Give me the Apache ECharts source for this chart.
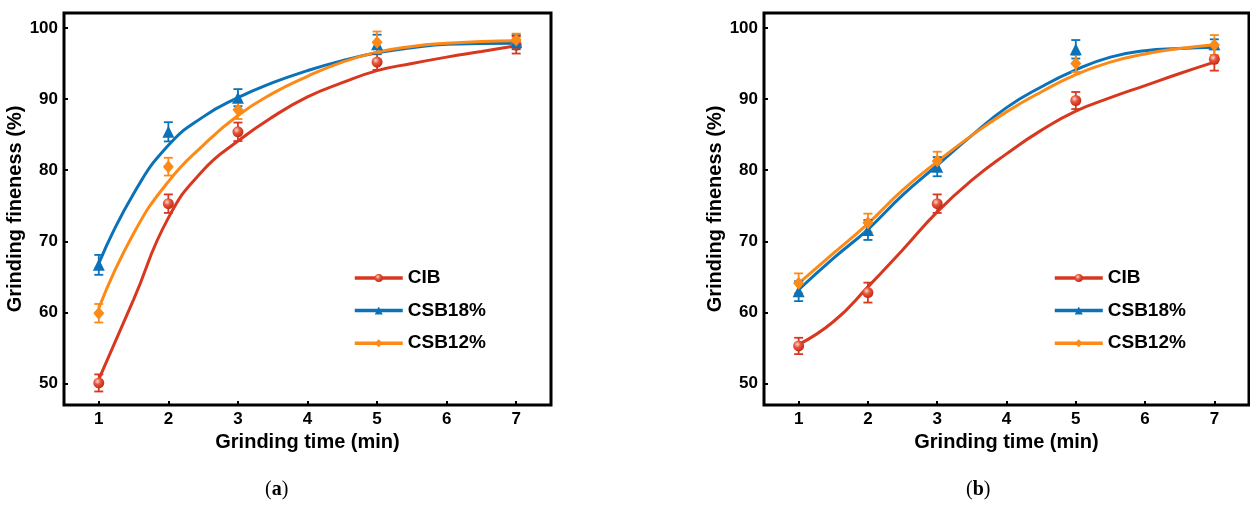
<!DOCTYPE html>
<html>
<head>
<meta charset="utf-8">
<script src="https://cdn.jsdelivr.net/npm/echarts@6/dist/echarts.min.js"></script>
<style>
  html, body { margin: 0; padding: 0; background: #fff; }
  #chart { width: 1250px; height: 512px; }
</style>
</head>
<body>
<div id="chart"></div>
<script>
// ---- data ----
const seriesNames = ['CIB', 'CSB18%', 'CSB12%'];
const xTicks = [1, 2, 3, 4, 5, 6, 7];
const yTicks = [50, 60, 70, 80, 90, 100];
const sampleTimes = [1, 2, 3, 5, 7];

// panel (a): measured means and standard errors
const cibA = [50.1, 75.3, 85.4, 95.2, 97.6];
const cibErrA = [1.2, 1.3, 1.3, 1.1, 1.2];
const csb18A = [66.7, 85.4, 90.2, 97.7, 98.0];
const csb18ErrA = [1.4, 1.35, 1.2, 1.35, 1.0];
const csb12A = [59.9, 80.5, 88.5, 98.0, 98.3];
const csb12ErrA = [1.3, 1.25, 1.3, 1.5, 0.9];

// panel (a): fitted curves
const fitTimesA = [1, 1.5, 2, 2.5, 3, 3.5, 4, 4.5, 5, 5.5, 6, 6.5, 7];
const cibFitA = [50.6, 61.8, 73.3, 80.0, 84.1, 87.5, 90.3, 92.3, 94.0, 95.0, 95.9, 96.7, 97.5];
const csb18FitA = [66.9, 76.7, 83.5, 87.5, 90.2, 92.3, 94.0, 95.4, 96.5, 97.2, 97.7, 97.8, 97.85];
const csb12FitA = [60.6, 71.1, 78.4, 83.5, 87.7, 90.8, 93.2, 95.2, 96.6, 97.4, 97.85, 98.1, 98.2];

// panel (b): measured means and standard errors
const cibB = [55.3, 62.8, 75.3, 89.8, 95.6];
const cibErrB = [1.15, 1.4, 1.3, 1.2, 1.6];
const csb18B = [63.0, 71.6, 80.5, 97.0, 97.7];
const csb18ErrB = [1.4, 1.4, 1.35, 1.3, 0.7];
const csb12B = [64.1, 72.6, 81.3, 95.0, 97.6];
const csb12ErrB = [1.4, 1.3, 1.3, 1.2, 1.4];

// panel (b): fitted curves
const fitTimesB = [1, 1.5, 2, 2.5, 3, 3.5, 4, 4.5, 5, 5.5, 6, 6.5, 7];
const cibFitB = [55.5, 58.7, 63.6, 68.8, 74.15, 78.6, 82.3, 85.6, 88.3, 90.2, 91.9, 93.6, 95.2];
const csb18FitB = [63.2, 67.6, 71.7, 76.5, 80.7, 84.9, 88.8, 91.7, 94.1, 95.9, 96.8, 97.1, 97.3];
const csb12FitB = [64.1, 68.3, 72.5, 77.2, 81.2, 84.9, 88.2, 91.0, 93.45, 95.2, 96.35, 97.1, 97.65];

// ---- styling ----
const RED = '#d7381f', BLUE = '#0b72b9', ORANGE = '#fd8a16';
const FONT = '"Liberation Sans", Arial, sans-serif';
const colors = [RED, BLUE, ORANGE];
const shinyRed = {
  type: 'radial', x: 0.38, y: 0.35, r: 0.65,
  colorStops: [{ offset: 0, color: '#ffd6cc' }, { offset: 0.45, color: '#e5553c' }, { offset: 1, color: '#c42c14' }]
};
const markerStyles = [
  { symbol: 'circle', size: 11, color: shinyRed },
  { symbol: 'triangle', size: 12, color: BLUE },
  { symbol: 'diamond', size: [11, 13], color: ORANGE }
];

const zip = (xs, ys) => xs.map((x, i) => [x, ys[i]]);
const bars = (xs, ys, es) => xs.map((x, i) => [x, ys[i] - es[i], ys[i] + es[i]]);

function errorBarItem(params, api) {
  const x = api.value(0);
  const lo = api.coord([x, api.value(1)]);
  const hi = api.coord([x, api.value(2)]);
  const w = 4.5;
  const style = { stroke: api.visual('color'), lineWidth: 1.8 };
  return {
    type: 'group',
    children: [
      { type: 'line', shape: { x1: hi[0], y1: hi[1], x2: lo[0], y2: lo[1] }, style },
      { type: 'line', shape: { x1: hi[0] - w, y1: hi[1], x2: hi[0] + w, y2: hi[1] }, style },
      { type: 'line', shape: { x1: lo[0] - w, y1: lo[1], x2: lo[0] + w, y2: lo[1] }, style }
    ]
  };
}

function panelSeries(idx, fitX, fits, means, errs) {
  const out = [];
  fits.forEach((fit, k) => {
    out.push({
      name: seriesNames[k], type: 'line', xAxisIndex: idx, yAxisIndex: idx,
      data: zip(fitX, fit), smooth: 0.5,
      symbol: markerStyles[k].symbol, showSymbol: false,
      lineStyle: { color: colors[k], width: 3 },
      itemStyle: { color: markerStyles[k].color },
      z: 2
    });
  });
  means.forEach((m, k) => {
    out.push({
      name: seriesNames[k], type: 'custom', xAxisIndex: idx, yAxisIndex: idx,
      renderItem: errorBarItem, data: bars(sampleTimes, m, errs[k]),
      itemStyle: { color: colors[k] }, z: 3
    });
    out.push({
      name: seriesNames[k], type: 'scatter', xAxisIndex: idx, yAxisIndex: idx,
      data: zip(sampleTimes, m),
      symbol: markerStyles[k].symbol, symbolSize: markerStyles[k].size,
      itemStyle: { color: markerStyles[k].color, opacity: 1 }, z: 4
    });
  });
  return out;
}

const axisLabelStyle = { color: '#000', fontFamily: FONT, fontWeight: 'bold', fontSize: 17 };
const axisNameStyle = { color: '#000', fontFamily: FONT, fontWeight: 'bold', fontSize: 20 };

function xAxisFor(idx) {
  return {
    gridIndex: idx, type: 'value', min: 0.5, max: 7.5,
    name: 'Grinding time (min)', nameLocation: 'middle', nameGap: 23, nameTextStyle: axisNameStyle,
    axisLine: { show: false },
    axisTick: { show: true, inside: true, length: 4, customValues: xTicks, lineStyle: { color: '#000', width: 2 } },
    axisLabel: { customValues: xTicks, margin: 6, ...axisLabelStyle },
    splitLine: { show: false }
  };
}
function yAxisFor(idx) {
  return {
    gridIndex: idx, type: 'value', min: 47, max: 102.1,
    name: 'Grinding fineness (%)', nameLocation: 'middle', nameGap: 32, nameTextStyle: axisNameStyle,
    axisLine: { show: false },
    axisTick: { show: true, inside: true, length: 4, customValues: yTicks, lineStyle: { color: '#000', width: 2 } },
    axisLabel: { customValues: yTicks, margin: 6, ...axisLabelStyle },
    splitLine: { show: false }
  };
}
function legendFor(left) {
  return {
    data: seriesNames, orient: 'vertical', left: left, top: 268,
    itemWidth: 48, itemHeight: 10, itemGap: 12.6, padding: 0,
    lineStyle: { width: 3.5 },
    textStyle: { color: '#000', fontFamily: FONT, fontWeight: 'bold', fontSize: 19, lineHeight: 20 }
  };
}

const chart = echarts.init(document.getElementById('chart'), null, { renderer: 'canvas' });
chart.setOption({
  animation: false,
  backgroundColor: '#fff',
  grid: [
    { left: 64, top: 13, width: 487, height: 392, show: true, borderColor: '#000', borderWidth: 3, backgroundColor: 'transparent' },
    { left: 764, top: 13, width: 485, height: 392, show: true, borderColor: '#000', borderWidth: 3, backgroundColor: 'transparent' }
  ],
  xAxis: [xAxisFor(0), xAxisFor(1)],
  yAxis: [yAxisFor(0), yAxisFor(1)],
  legend: [legendFor(353), legendFor(1053)],
  series: [
    ...panelSeries(0, fitTimesA, [cibFitA, csb18FitA, csb12FitA], [cibA, csb18A, csb12A], [cibErrA, csb18ErrA, csb12ErrA]),
    ...panelSeries(1, fitTimesB, [cibFitB, csb18FitB, csb12FitB], [cibB, csb18B, csb12B], [cibErrB, csb18ErrB, csb12ErrB])
  ],
  graphic: [
    { type: 'text', left: 265, top: 480, style: { text: '({b|a})', font: '20px "Liberation Serif", serif', fill: '#000',
      rich: { b: { fontWeight: 'bold', fontSize: 20, fontFamily: '"Liberation Serif", serif' } } } },
    { type: 'text', left: 966, top: 480, style: { text: '({b|b})', font: '20px "Liberation Serif", serif', fill: '#000',
      rich: { b: { fontWeight: 'bold', fontSize: 20, fontFamily: '"Liberation Serif", serif' } } } }
  ]
});
</script>
</body>
</html>
